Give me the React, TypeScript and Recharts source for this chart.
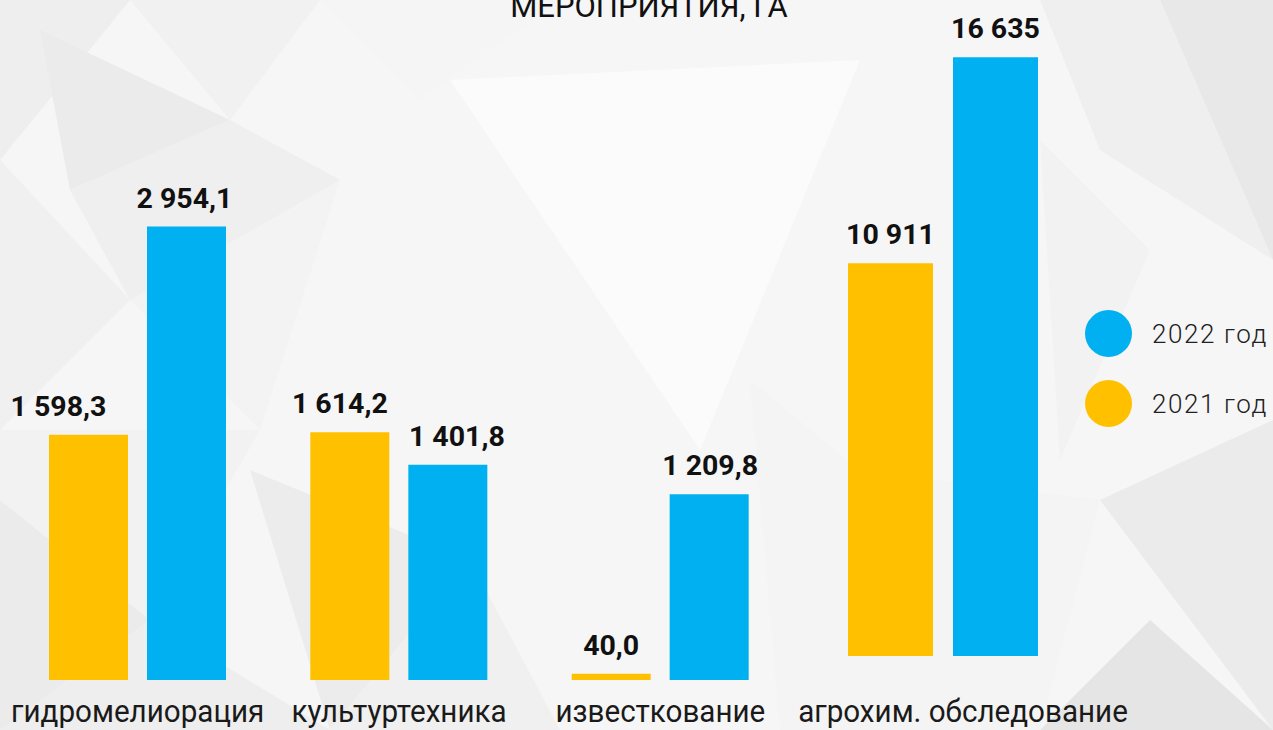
import { Bar, BarChart, LabelList, XAxis, YAxis } from "recharts";

const categories = ["гидромелиорация", "культуртехника", "известкование"];
const values2021 = [1598.3, 1614.2, 40.0];
const values2022 = [2954.1, 1401.8, 1209.8];

const agroCategories = ["агрохим. обследование"];
const agro2021 = [10911];
const agro2022 = [16635];

const seriesNames = ["2022 год", "2021 год"];
const titleText = "МЕРОПРИЯТИЯ, ГА";

// horizontal nudges of value labels, as placed in the original
const shift2021 = [-30, -10, 0];
const shift2022 = [-2, 9, 1];

const ORANGE = "#FFC000";
const BLUE = "#00B0F0";
const FONT = "Roboto, 'Noto Sans', sans-serif";

if (typeof document !== "undefined") document.body.style.margin = "0";

const mainData = categories.map((name, i) => ({
  name,
  y2021: values2021[i],
  y2022: values2022[i],
}));

const agroData = agroCategories.map((name, i) => ({
  name,
  y2021: agro2021[i],
  y2022: agro2022[i],
}));

// decorative low-poly background
const BG_POLYS: [string, string][] = [
  ["0,0 130,0 0,160", "#eeeeee"],
  ["40,30 230,120 70,190", "#ebebeb"],
  ["130,0 320,0 230,120", "#f1f1f1"],
  ["320,0 560,0 420,100", "#f5f5f5"],
  ["450,80 860,60 700,450", "#fbfbfb"],
  ["1040,0 1160,0 1273,260 1100,150", "#efefef"],
  ["1160,0 1273,0 1273,260", "#e8e8e8"],
  ["0,160 130,300 0,430", "#f0f0f0"],
  ["130,300 340,180 260,430", "#f3f3f3"],
  ["70,190 230,120 340,180 130,300", "#efefef"],
  ["0,500 150,620 0,730", "#ebebeb"],
  ["0,430 260,430 150,620 0,500", "#f2f2f2"],
  ["250,470 470,560 330,730", "#ececec"],
  ["470,560 560,730 330,730", "#f0f0f0"],
  ["150,620 330,730 0,730", "#eeeeee"],
  ["1100,500 1273,420 1273,730", "#ebebeb"],
  ["1150,620 1273,730 1040,730", "#e5e5e5"],
  ["750,380 860,470 780,730", "#f4f4f4"],
  ["1040,140 1150,250 1060,460", "#f2f2f2"],
  ["860,470 1100,500 1040,730 780,730", "#f4f4f4"],
];

function fmtDec(v: number) {
  const [int, dec] = v.toFixed(1).split(".");
  return int.replace(/\B(?=(\d{3})+(?!\d))/g, " ") + "," + dec;
}

function fmtInt(v: number) {
  return Math.round(v)
    .toString()
    .replace(/\B(?=(\d{3})+(?!\d))/g, " ");
}

function CategoryTick(props: any) {
  const { x, y, payload, dx = 0, dy = 34 } = props;
  return (
    <g transform={`translate(${x + dx},${y + dy}) scale(0.955,1)`}>
      <text
        x={0}
        y={0}
        textAnchor="middle"
        fontFamily={FONT}
        fontSize={31}
        fill="#1a1a1a"
      >
        {payload.value}
      </text>
    </g>
  );
}

function makeValueLabel(fmt: (v: number) => string, shifts: number[]) {
  return (props: any) => {
    const { x, y, width, value, index } = props;
    return (
      <text
        x={Number(x) + Number(width) / 2 + (shifts[index] ?? 0)}
        y={Number(y) - 19}
        textAnchor="middle"
        fontFamily={FONT}
        fontSize={28.5}
        fontWeight={700}
        fill="#111"
      >
        {fmt(Number(value))}
      </text>
    );
  };
}

export default function App() {
  return (
    <div
      style={{
        position: "relative",
        width: 1273,
        height: 730,
        overflow: "hidden",
        background: "#f6f6f6",
      }}
    >
      <svg
        width={1273}
        height={730}
        style={{ position: "absolute", left: 0, top: 0 }}
      >
        {BG_POLYS.map(([pts, fill], i) => (
          <polygon key={i} points={pts} fill={fill} />
        ))}
        <text
          x={649}
          y={17}
          textAnchor="middle"
          fontFamily={FONT}
          fontSize={31}
          fill="#111"
        >
          {titleText}
        </text>
      </svg>

      <div style={{ position: "absolute", left: 0, top: 0 }}>
        <BarChart
          width={800}
          height={730}
          data={mainData}
          margin={{ top: 66, right: 9, bottom: 0, left: 7 }}
          barSize={79}
          barGap={19}
        >
          <XAxis
            dataKey="name"
            height={50}
            axisLine={false}
            tickLine={false}
            interval={0}
            tick={<CategoryTick dy={34} />}
          />
          <YAxis hide domain={[0, 4000]} />
          <Bar dataKey="y2021" fill={ORANGE} isAnimationActive={false}>
            <LabelList
              dataKey="y2021"
              content={makeValueLabel(fmtDec, shift2021)}
            />
          </Bar>
          <Bar dataKey="y2022" fill={BLUE} isAnimationActive={false}>
            <LabelList
              dataKey="y2022"
              content={makeValueLabel(fmtDec, shift2022)}
            />
          </Bar>
        </BarChart>
      </div>

      <div style={{ position: "absolute", left: 700, top: 0 }}>
        <BarChart
          width={573}
          height={730}
          data={agroData}
          margin={{ top: 8, right: 187, bottom: 0, left: 100 }}
          barSize={85}
          barGap={20}
        >
          <XAxis
            dataKey="name"
            height={74}
            axisLine={false}
            tickLine={false}
            interval={0}
            tick={<CategoryTick dx={20} dy={58} />}
          />
          <YAxis hide domain={[0, 18000]} />
          <Bar dataKey="y2021" fill={ORANGE} isAnimationActive={false}>
            <LabelList dataKey="y2021" content={makeValueLabel(fmtInt, [0])} />
          </Bar>
          <Bar dataKey="y2022" fill={BLUE} isAnimationActive={false}>
            <LabelList dataKey="y2022" content={makeValueLabel(fmtInt, [0])} />
          </Bar>
        </BarChart>
      </div>

      <div style={{ position: "absolute", left: 1085, top: 310 }}>
        {seriesNames.map((name, i) => (
          <div
            key={name}
            style={{
              display: "flex",
              alignItems: "center",
              height: 47,
              marginBottom: i === 0 ? 23 : 0,
            }}
          >
            <div
              style={{
                width: 47,
                height: 47,
                borderRadius: "50%",
                background: i === 0 ? BLUE : ORANGE,
              }}
            />
            <span
              style={{
                marginLeft: 20,
                fontFamily: FONT,
                fontSize: 26,
                fontWeight: 300,
                letterSpacing: 1.6,
                color: "#222",
                whiteSpace: "nowrap",
              }}
            >
              {name}
            </span>
          </div>
        ))}
      </div>
    </div>
  );
}
